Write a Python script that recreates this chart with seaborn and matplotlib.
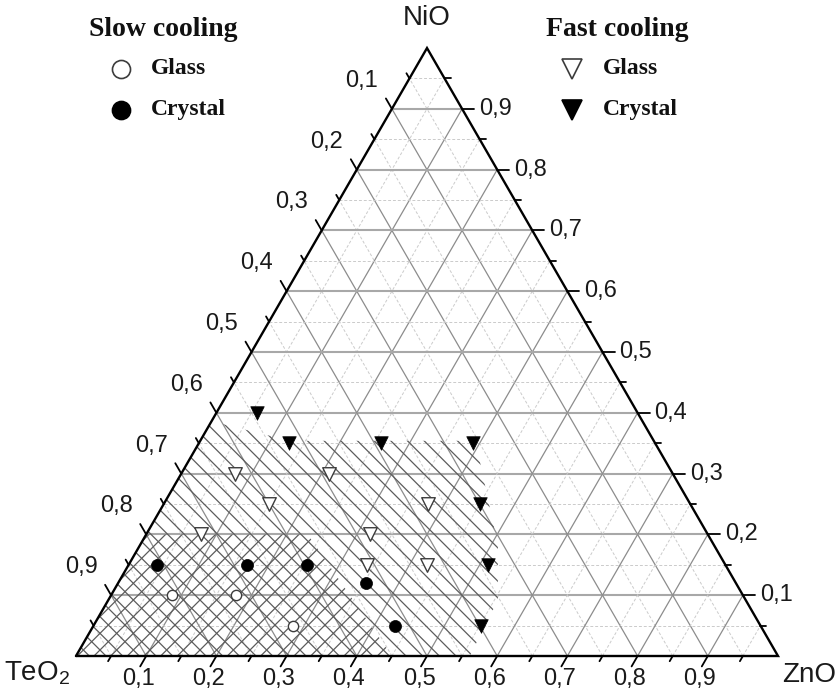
import numpy as np
import pandas as pd
import matplotlib
matplotlib.use("Agg")
import matplotlib.pyplot as plt
from matplotlib.patches import Polygon
import seaborn as sns

# Compositions as mole fractions (ZnO, NiO); TeO2 = 1 - ZnO - NiO
slow_glass_zno = [0.087, 0.178, 0.284]
slow_glass_nio = [0.10, 0.10, 0.05]
slow_cryst_zno = [0.040, 0.169, 0.254, 0.353, 0.430]
slow_cryst_nio = [0.15, 0.15, 0.15, 0.12, 0.05]
fast_glass_zno = [0.076, 0.210, 0.150, 0.376, 0.078, 0.319, 0.340, 0.425]
fast_glass_nio = [0.30, 0.30, 0.25, 0.25, 0.20, 0.20, 0.15, 0.15]
fast_cryst_zno = [0.058, 0.128, 0.260, 0.390, 0.450, 0.512, 0.552]
fast_cryst_nio = [0.40, 0.35, 0.35, 0.35, 0.25, 0.15, 0.05]

# Glass-forming domains (ZnO, NiO outlines)
fast_domain_zno = [0.0, 0.128, 0.392, 0.510, 0.555, 0.561, 0.0]
fast_domain_nio = [0.386, 0.354, 0.354, 0.182, 0.092, 0.0, 0.0]
slow_domain_zno = [0.0, 0.23, 0.45, 0.0]
slow_domain_nio = [0.20, 0.20, 0.0, 0.0]

tick_values = [0.1, 0.2, 0.3, 0.4, 0.5, 0.6, 0.7, 0.8, 0.9]
tick_labels = ["0,1", "0,2", "0,3", "0,4", "0,5", "0,6", "0,7", "0,8", "0,9"]
corner_labels = ["TeO$_2$", "ZnO", "NiO"]

H = np.sqrt(3) / 2
PX = 702.0  # pixels per unit side length


def cart(zno, nio):
    zno = np.asarray(zno, float)
    nio = np.asarray(nio, float)
    return zno + nio / 2, nio * H


def px(px_x, px_y):
    return (px_x - 76) / PX, (656 - px_y) / PX


sns.set_theme(style="white")
plt.rcParams["font.family"] = ["Liberation Sans", "DejaVu Sans"]
plt.rcParams["mathtext.default"] = "regular"
plt.rcParams["hatch.linewidth"] = 0.9

fig = plt.figure(figsize=(8.38, 6.95), dpi=100)
ax = fig.add_axes([0, 0, 1, 1])
ax.set_xlim(-76 / PX, 762 / PX)
ax.set_ylim(-39 / PX, 656 / PX)
ax.axis("off")

# grid lines
major_h = dict(color="#a8a8a8", lw=1.5, ls="-")
major_s = dict(color="#8c8c8c", lw=0.9, ls="-")
minor = dict(color="#cbcbcb", lw=0.7, ls=(0, (3, 2)))
for k in range(1, 20):
    v = k * 0.05
    is_major = k % 2 == 0
    # NiO constant (horizontal)
    x, y = cart([0, 1 - v], [v, v])
    ax.plot(x, y, zorder=1, **(major_h if is_major else minor))
    # ZnO constant
    x, y = cart([v, v], [0, 1 - v])
    ax.plot(x, y, zorder=1, **(major_s if is_major else minor))
    # TeO2 constant
    x, y = cart([1 - v, 0], [0, 1 - v])
    ax.plot(x, y, zorder=1, **(major_s if is_major else minor))

# hatched glass-forming domains
fx, fy = cart(fast_domain_zno, fast_domain_nio)
ax.add_patch(Polygon(np.column_stack([fx, fy]), closed=True, fill=False,
                     hatch="\\\\", edgecolor="#5c5c5c", lw=0, zorder=2))
sx, sy = cart(slow_domain_zno, slow_domain_nio)
ax.add_patch(Polygon(np.column_stack([sx, sy]), closed=True, fill=False,
                     hatch="//", edgecolor="#5c5c5c", lw=0, zorder=2))

# triangle frame
tx, ty = cart([0, 1, 0, 0], [0, 0, 1, 0])
ax.plot(tx, ty, color="black", lw=1.7, zorder=4, solid_joinstyle="miter")

# ticks and tick labels
maj, mnr = 12 / PX, 6 / PX
for k in range(1, 20):
    v = k * 0.05
    L = maj if k % 2 == 0 else mnr
    # bottom axis: ZnO
    x0, y0 = cart(v, 0)
    ax.plot([x0, x0 - 0.5 * L], [y0, y0 - H * L], color="black", lw=1.3, zorder=4)
    # left axis: TeO2
    x0, y0 = cart(0, 1 - v)
    ax.plot([x0, x0 - 0.5 * L], [y0, y0 + H * L], color="black", lw=1.3, zorder=4)
    # right axis: NiO
    x0, y0 = cart(1 - v, v)
    ax.plot([x0, x0 + L], [y0, y0], color="black", lw=1.3, zorder=4)

tk = dict(fontsize=17, color="#1a1a1a")
for v, lab in zip(tick_values, tick_labels):
    x0, y0 = cart(v, 0)
    ax.text(x0 - 8 / PX, y0 - 12 / PX, lab, ha="center", va="top", **tk)
    x0, y0 = cart(0, 1 - v)
    ax.text(x0 - 30 / PX, y0 + 28 / PX, lab, ha="center", va="center", **tk)
    x0, y0 = cart(1 - v, v)
    ax.text(x0 + 17 / PX, y0, lab, ha="left", va="center", **tk)

# corner labels
cl = dict(fontsize=20, color="#1a1a1a")
ax.text(-6 / PX, -17 / PX, corner_labels[0], ha="right", va="center", **cl)
ax.text(1 + 31 / PX, -19 / PX, corner_labels[1], ha="center", va="center", **cl)
ax.text(0.5, H + 30 / PX, corner_labels[2], ha="center", va="center", **cl)

# data points
groups = [
    ("Slow cooling", "Glass", slow_glass_zno, slow_glass_nio),
    ("Slow cooling", "Crystal", slow_cryst_zno, slow_cryst_nio),
    ("Fast cooling", "Glass", fast_glass_zno, fast_glass_nio),
    ("Fast cooling", "Crystal", fast_cryst_zno, fast_cryst_nio),
]
rows = []
for cooling, phase, z, n in groups:
    x, y = cart(z, n)
    for xi, yi in zip(x, y):
        rows.append({"x": xi, "y": yi, "cooling": cooling, "phase": phase})
df = pd.DataFrame(rows)

styles = {
    ("Slow cooling", "Glass"): dict(marker="o", s=55, color="white", edgecolor="#3c3c3c", linewidth=1.0),
    ("Slow cooling", "Crystal"): dict(marker="o", s=75, color="black", edgecolor="black", linewidth=0.5),
    ("Fast cooling", "Glass"): dict(marker="v", s=95, color="white", edgecolor="#3c3c3c", linewidth=1.0),
    ("Fast cooling", "Crystal"): dict(marker="v", s=95, color="black", edgecolor="black", linewidth=0.5),
}
for (cooling, phase), sub in df.groupby(["cooling", "phase"]):
    sns.scatterplot(data=sub, x="x", y="y", ax=ax, zorder=6, legend=False,
                    **styles[(cooling, phase)])

# legend blocks
serif = ["Liberation Serif", "DejaVu Serif"]
title_kw = dict(fontsize=20, fontweight="bold", family=serif, color="#111111")
item_kw = dict(fontsize=17, fontweight="bold", family=serif, color="#111111")

blocks = [
    ("Slow cooling", (163, 30), (121, 151), "o", 13),
    ("Fast cooling", (617, 30), (572, 603), "v", 15),
]
for title, (tx_, ty_), (mx_, lx_), mk, ms in blocks:
    ax.text(*px(tx_, ty_), title, ha="center", va="center", **title_kw)
    for (label, face, edge), yy in zip([("Glass", "white", "#3c3c3c"), ("Crystal", "black", "black")], [69, 110]):
        mx, my = px(mx_, yy)
        ax.plot([mx], [my], marker=mk, ms=ms, mfc=face, mec=edge, mew=1.2, ls="none", clip_on=False)
        ax.text(*px(lx_, yy), label, ha="left", va="center", **item_kw)

fig.savefig("out.png", dpi=100)
